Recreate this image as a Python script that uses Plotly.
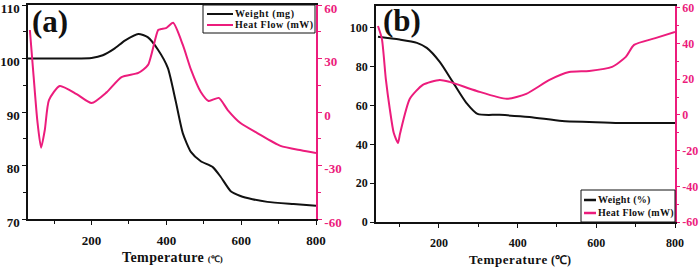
import plotly.graph_objects as go

# Panel (a)
ta_w = [30, 100, 150, 200, 230, 260, 290, 325, 350, 378, 404, 425, 444, 466, 492, 524, 545, 572, 598, 630, 670, 740, 800]
wa = [100, 100, 100, 100.1, 100.6, 101.8, 103.4, 104.6, 104, 101.6, 98.2, 92, 86, 82.5, 80.8, 79.7, 77.9, 75.2, 74.3, 73.7, 73.2, 72.8, 72.5]
ta_h = [35, 45, 55, 65, 75, 86, 115, 160, 200, 240, 280, 325, 351, 378, 386, 399, 418, 444, 466, 492, 513, 540, 564, 598, 643, 705, 760, 800]
ha = [46, 20, -5, -20, -10, 6.7, 14.6, 10, 5, 11, 19.6, 21.9, 26.4, 46, 46.5, 47, 50, 37.6, 23.6, 11.2, 6.2, 7.9, 1.1, -6.2, -11.8, -19, -21.5, -23]

# Panel (b)
tb_w = [45, 100, 144, 169, 202, 235, 270, 298, 354, 430, 513, 582, 658, 800]
wb = [95.4, 94, 92.3, 89.7, 82.5, 72.2, 61.3, 55.7, 55.2, 54.1, 52, 51.5, 51, 51]
tb_h = [45, 55, 65, 75, 85, 96, 101, 126, 159, 202, 227, 296, 372, 422, 481, 531, 582, 640, 675, 696, 750, 800]
hb = [49.8, 42.6, 20, 3.4, -10, -15.7, -10.6, 9, 16.8, 19.6, 18.5, 13.4, 9, 11.8, 19.6, 24, 24.6, 26.9, 32.5, 39.2, 43, 46.5]

# Tick labels
xticks = [200, 400, 600, 800]
ya_ticks = [70, 80, 90, 100, 110]
ya2_ticks = [-60, -30, 0, 30, 60]
yb_ticks = [0, 20, 40, 60, 80, 100]
yb2_ticks = [-60, -40, -20, 0, 20, 40, 60]

# Legend labels
leg_a = ["Weight (mg)", "Heat Flow (mW)"]
leg_b = ["Weight (%)", "Heat Flow (mW)"]

PINK = "#ec1c7c"
BLK = "#111111"
FONT = "Liberation Serif"
W, H = 700, 267

fig = go.Figure()
fig.add_trace(go.Scatter(x=ta_w, y=wa, mode="lines", line=dict(color=BLK, width=2, shape="spline", smoothing=0.6),
                         name=leg_a[0], xaxis="x", yaxis="y", showlegend=False))
fig.add_trace(go.Scatter(x=ta_h, y=ha, mode="lines", line=dict(color=PINK, width=2, shape="spline", smoothing=0.6),
                         name=leg_a[1], xaxis="x", yaxis="y2", showlegend=False))
fig.add_trace(go.Scatter(x=tb_w, y=wb, mode="lines", line=dict(color=BLK, width=2, shape="spline", smoothing=0.7),
                         name=leg_b[0], xaxis="x2", yaxis="y3", showlegend=False))
fig.add_trace(go.Scatter(x=tb_h, y=hb, mode="lines", line=dict(color=PINK, width=2, shape="spline", smoothing=0.6),
                         name=leg_b[1], xaxis="x2", yaxis="y4", showlegend=False))

def dx(a, b): return [a / W, b / W]
def dy(top, bot): return [(H - bot) / H, (H - top) / H]
def px(x): return x / W
def py(y): return (H - y) / H
def lbl(v): return [str(t) for t in v]

tfa = dict(family=FONT, size=13, color=BLK, weight=700)
tfpa = dict(family=FONT, size=13, color=PINK, weight=700)
tfb = dict(family=FONT, size=12, color=BLK, weight=700)
tfpb = dict(family=FONT, size=12, color=PINK, weight=700)

def xcommon(tf):
    return dict(showgrid=False, zeroline=False, showline=True, linecolor=BLK, linewidth=1.5, mirror=True,
                automargin=False, ticks="outside", ticklen=4, tickcolor=BLK, tickfont=tf,
                tickvals=xticks, ticktext=lbl(xticks), ticklabelstandoff=5, ticklabeloverflow="allow",
                minor=dict(ticks="outside", ticklen=3, tickvals=[100, 300, 500, 700], tickcolor=BLK))

def ycommon(color, tf, vals, ticklen=4, shift=0):
    return dict(showgrid=False, zeroline=False, showline=True, linecolor=color, linewidth=1.5,
                automargin=False, ticks="outside", ticklen=ticklen, tickcolor=color,
                ticklabeloverflow="allow", ticklabelshift=shift,
                tickvals=vals, ticktext=lbl(vals), tickfont=tf)

fig.update_layout(
    width=W, height=H, margin=dict(l=0, r=0, t=0, b=0, autoexpand=False),
    paper_bgcolor="white", plot_bgcolor="white",
    font=dict(family=FONT, color=BLK),
    showlegend=False,
    xaxis=dict(domain=dx(28, 316), range=[30, 800], anchor="y", **xcommon(tfa)),
    yaxis=dict(domain=dy(5, 219), range=[70, 110], anchor="x",
               minor=dict(ticks="outside", ticklen=3, tickvals=[75, 85, 95, 105], tickcolor=BLK),
               **ycommon(BLK, tfa, ya_ticks, shift=3)),
    yaxis2=dict(overlaying="y", side="right", anchor="x", range=[-60, 60],
                minor=dict(ticks="outside", ticklen=3, tickvals=[-45, -15, 15, 45], tickcolor=PINK),
                **ycommon(PINK, tfpa, ya2_ticks, shift=3)),
    xaxis2=dict(domain=dx(376, 675), range=[40, 800], anchor="y3", **xcommon(tfb)),
    yaxis3=dict(domain=dy(6, 222), range=[0, 111.3], anchor="x2",
                **ycommon(BLK, tfb, yb_ticks)),
    yaxis4=dict(overlaying="y3", side="right", anchor="x2", range=[-60, 61],
                minor=dict(ticks="outside", ticklen=2, tickvals=[-50, -30, -10, 10, 30, 50], tickcolor=PINK),
                **ycommon(PINK, tfpb, yb2_ticks, ticklen=3)),
)

shapes = [
    # legend (a) box and swatches
    dict(type="rect", xref="paper", yref="paper", x0=px(203), x1=px(315), y0=py(33), y1=py(5),
         line=dict(color=BLK, width=1), fillcolor="white", layer="above"),
    dict(type="line", xref="paper", yref="paper", x0=px(207), x1=px(233), y0=py(14), y1=py(14),
         line=dict(color=BLK, width=2), layer="above"),
    dict(type="line", xref="paper", yref="paper", x0=px(207), x1=px(233), y0=py(25), y1=py(25),
         line=dict(color=PINK, width=2), layer="above"),
    # legend (b) box and swatches
    dict(type="rect", xref="paper", yref="paper", x0=px(581), x1=px(675), y0=py(222), y1=py(190),
         line=dict(color=BLK, width=1), fillcolor="white", layer="above"),
    dict(type="line", xref="paper", yref="paper", x0=px(584), x1=px(596), y0=py(200), y1=py(200),
         line=dict(color=BLK, width=2.5), layer="above"),
    dict(type="line", xref="paper", yref="paper", x0=px(584), x1=px(596), y0=py(213), y1=py(213),
         line=dict(color=PINK, width=2.5), layer="above"),
]

lf = dict(family=FONT, size=10, color=BLK)
def sp(t, ls): return "<b><span style='letter-spacing:%spx'>%s</span></b>" % (ls, t)
def ann(text, x, y, font, xanchor="left"):
    return dict(text=text, x=px(x), y=py(y), xref="paper", yref="paper", xanchor=xanchor,
                yanchor="middle", showarrow=False, font=font, borderpad=0)

annotations = [
    ann("<b>(a)</b>", 31, 22, dict(family=FONT, size=31, color=BLK)),
    ann("<b>(b)</b>", 382, 21, dict(family=FONT, size=31, color=BLK)),
    ann(sp(leg_a[0], 0.6), 234, 14, lf),
    ann(sp(leg_a[1], 0.5), 234, 25, lf),
    ann(sp(leg_b[0], 0.3), 597, 200, lf),
    ann(sp(leg_b[1], 0.3), 597, 213, lf),
    ann("<b><span style='letter-spacing:0.4px'>Temperature</span> <span style='font-size:9px'>(℃)</span></b>",
        172, 257, dict(family=FONT, size=14, color=BLK), xanchor="center"),
    ann("<b><span style='letter-spacing:0.6px'>Temperature</span> <span style='font-size:12px'>(℃)</span></b>",
        520, 259, dict(family=FONT, size=13, color=BLK), xanchor="center"),
]
fig.update_layout(shapes=shapes, annotations=annotations)

# remove the browser's default 8px page margin so the figure starts at the window's corner
fig.write_html("out.html", config={"displayModeBar": False},
               post_script="document.body.style.margin='0';document.body.style.overflow='hidden';")
